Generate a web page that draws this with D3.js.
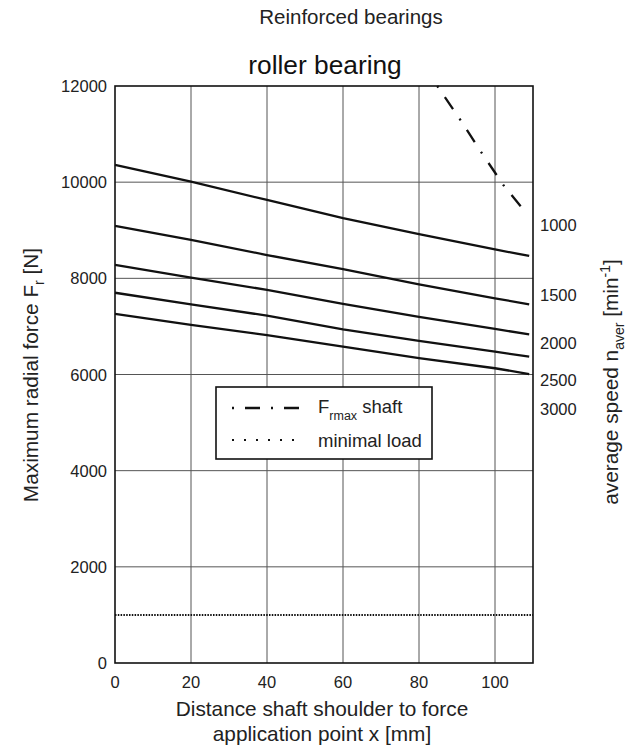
<!DOCTYPE html>
<html><head><meta charset="utf-8">
<script src="https://cdn.jsdelivr.net/npm/d3@7"></script>
<style>body{margin:0;background:#fff}svg{display:block;font-family:"Liberation Sans",Arial,sans-serif}</style>
</head><body>
<script>
const xTicks = [0,20,40,60,80,100];
const yTicks = [0,2000,4000,6000,8000,10000,12000];
const xPos = [0,20,40,60,80,100,109];
const speeds = ["1000","1500","2000","2500","3000"];
const s1000 = [10360,10010,9630,9250,8920,8600,8465];
const s1500 = [9090,8800,8485,8190,7875,7585,7460];
const s2000 = [8280,8015,7760,7470,7200,6947,6835];
const s2500 = [7700,7460,7225,6940,6700,6475,6370];
const s3000 = [7260,7030,6820,6580,6340,6130,6010];
const frmaxX = [84.8,90.8,96.3,102.2,108.6];
const frmaxY = [12000,11306,10632,9942,9318];
const minLoad = 1000;
const speedLabelY = [225,295,342.7,380,409.3];

const W=634,H=748;
const svg=d3.select("body").append("svg").attr("width",W).attr("height",H);
const x=d3.scaleLinear().domain([0,110]).range([115,533]);
const y=d3.scaleLinear().domain([0,12000]).range([663,86]);
const txt="#222";

// grid
svg.append("g").selectAll("line").data(xTicks.filter(d=>d>0)).join("line")
 .attr("x1",d=>x(d)).attr("x2",d=>x(d)).attr("y1",y(0)).attr("y2",y(12000))
 .attr("stroke","#555").attr("stroke-width",1);
svg.append("g").selectAll("line").data(yTicks.filter(d=>d>0&&d<12000)).join("line")
 .attr("x1",x(0)).attr("x2",x(110)).attr("y1",d=>y(d)).attr("y2",d=>y(d))
 .attr("stroke","#555").attr("stroke-width",1);

// curves
const line=d3.line().x(d=>x(d[0])).y(d=>y(d[1]));
const series=[s1000,s1500,s2000,s2500,s3000];
svg.append("g").selectAll("path").data(series).join("path")
 .attr("d",s=>line(s.map((v,i)=>[xPos[i],v])))
 .attr("fill","none").attr("stroke","#111").attr("stroke-width",2.3);

// Frmax dash-dot
svg.append("path").attr("d",line(frmaxX.map((v,i)=>[v,frmaxY[i]])))
 .attr("fill","none").attr("stroke","#111").attr("stroke-width",2.3)
 .attr("stroke-dasharray","2,11.5,14.5,11.5");

// minimal load
svg.append("line").attr("x1",x(0)).attr("x2",x(110)).attr("y1",y(minLoad)).attr("y2",y(minLoad))
 .attr("stroke","#111").attr("stroke-width",2).attr("stroke-dasharray","1.5,1.3");

// frame
svg.append("rect").attr("x",x(0)).attr("y",y(12000)).attr("width",x(110)-x(0)).attr("height",y(0)-y(12000))
 .attr("fill","none").attr("stroke","#111").attr("stroke-width",1.6);

// tick labels
svg.append("g").selectAll("text").data(yTicks).join("text")
 .attr("x",107).attr("y",d=>y(d)+6).attr("text-anchor","end")
 .attr("font-size",16.5).attr("fill",txt).text(d=>d);
svg.append("g").selectAll("text").data(xTicks).join("text")
 .attr("x",d=>x(d)).attr("y",688).attr("text-anchor","middle")
 .attr("font-size",16.5).attr("fill",txt).text(d=>d);

// speed labels
svg.append("g").selectAll("text").data(speeds).join("text")
 .attr("x",540).attr("y",(d,i)=>speedLabelY[i]+6)
 .attr("font-size",16.5).attr("fill",txt).text(d=>d);

// titles
svg.append("text").attr("x",351).attr("y",23.5).attr("text-anchor","middle")
 .attr("font-size",20.5).attr("fill",txt).text("Reinforced bearings");
svg.append("text").attr("x",325).attr("y",74).attr("text-anchor","middle")
 .attr("font-size",26.3).attr("fill","#111").text("roller bearing");

// x label
svg.append("text").attr("x",322).attr("y",716).attr("text-anchor","middle")
 .attr("font-size",20.8).attr("fill",txt).text("Distance shaft shoulder to force");
svg.append("text").attr("x",322).attr("y",740.5).attr("text-anchor","middle")
 .attr("font-size",20.8).attr("fill",txt).text("application point x [mm]");

// left y label
const yl=svg.append("text").attr("transform","translate(38,375) rotate(-90)")
 .attr("text-anchor","middle").attr("font-size",20.8).attr("fill",txt);
yl.append("tspan").text("Maximum radial force F");
yl.append("tspan").attr("font-size",14).attr("dy",6).text("r");
yl.append("tspan").attr("dy",-6).text(" [N]");

// right y label
const yr=svg.append("text").attr("transform","translate(618,382) rotate(-90)")
 .attr("text-anchor","middle").attr("font-size",20.8).attr("fill",txt);
yr.append("tspan").text("average speed n");
yr.append("tspan").attr("font-size",14).attr("dy",6).text("aver");
yr.append("tspan").attr("dy",-6).text(" [min");
yr.append("tspan").attr("font-size",14).attr("dy",-8).text("-1");
yr.append("tspan").attr("dy",8).text("]");

// legend
const lg=svg.append("g");
lg.append("rect").attr("x",216).attr("y",387).attr("width",216).attr("height",72)
 .attr("fill","#fff").attr("stroke","#111").attr("stroke-width",1.6);
lg.append("line").attr("x1",232).attr("x2",301).attr("y1",408).attr("y2",408)
 .attr("stroke","#111").attr("stroke-width",2.3).attr("stroke-dasharray","2,11,15,11");
lg.append("line").attr("x1",232).attr("x2",301).attr("y1",440).attr("y2",440)
 .attr("stroke","#111").attr("stroke-width",2).attr("stroke-dasharray","2,10");
const t1=lg.append("text").attr("x",318).attr("y",413).attr("font-size",18.5).attr("fill",txt);
t1.append("tspan").text("F");
t1.append("tspan").attr("font-size",12.5).attr("dy",7).text("rmax");
t1.append("tspan").attr("dy",-7).text(" shaft");
lg.append("text").attr("x",318).attr("y",446.5).attr("font-size",18.5).attr("fill",txt).text("minimal load");
</script>
</body></html>
